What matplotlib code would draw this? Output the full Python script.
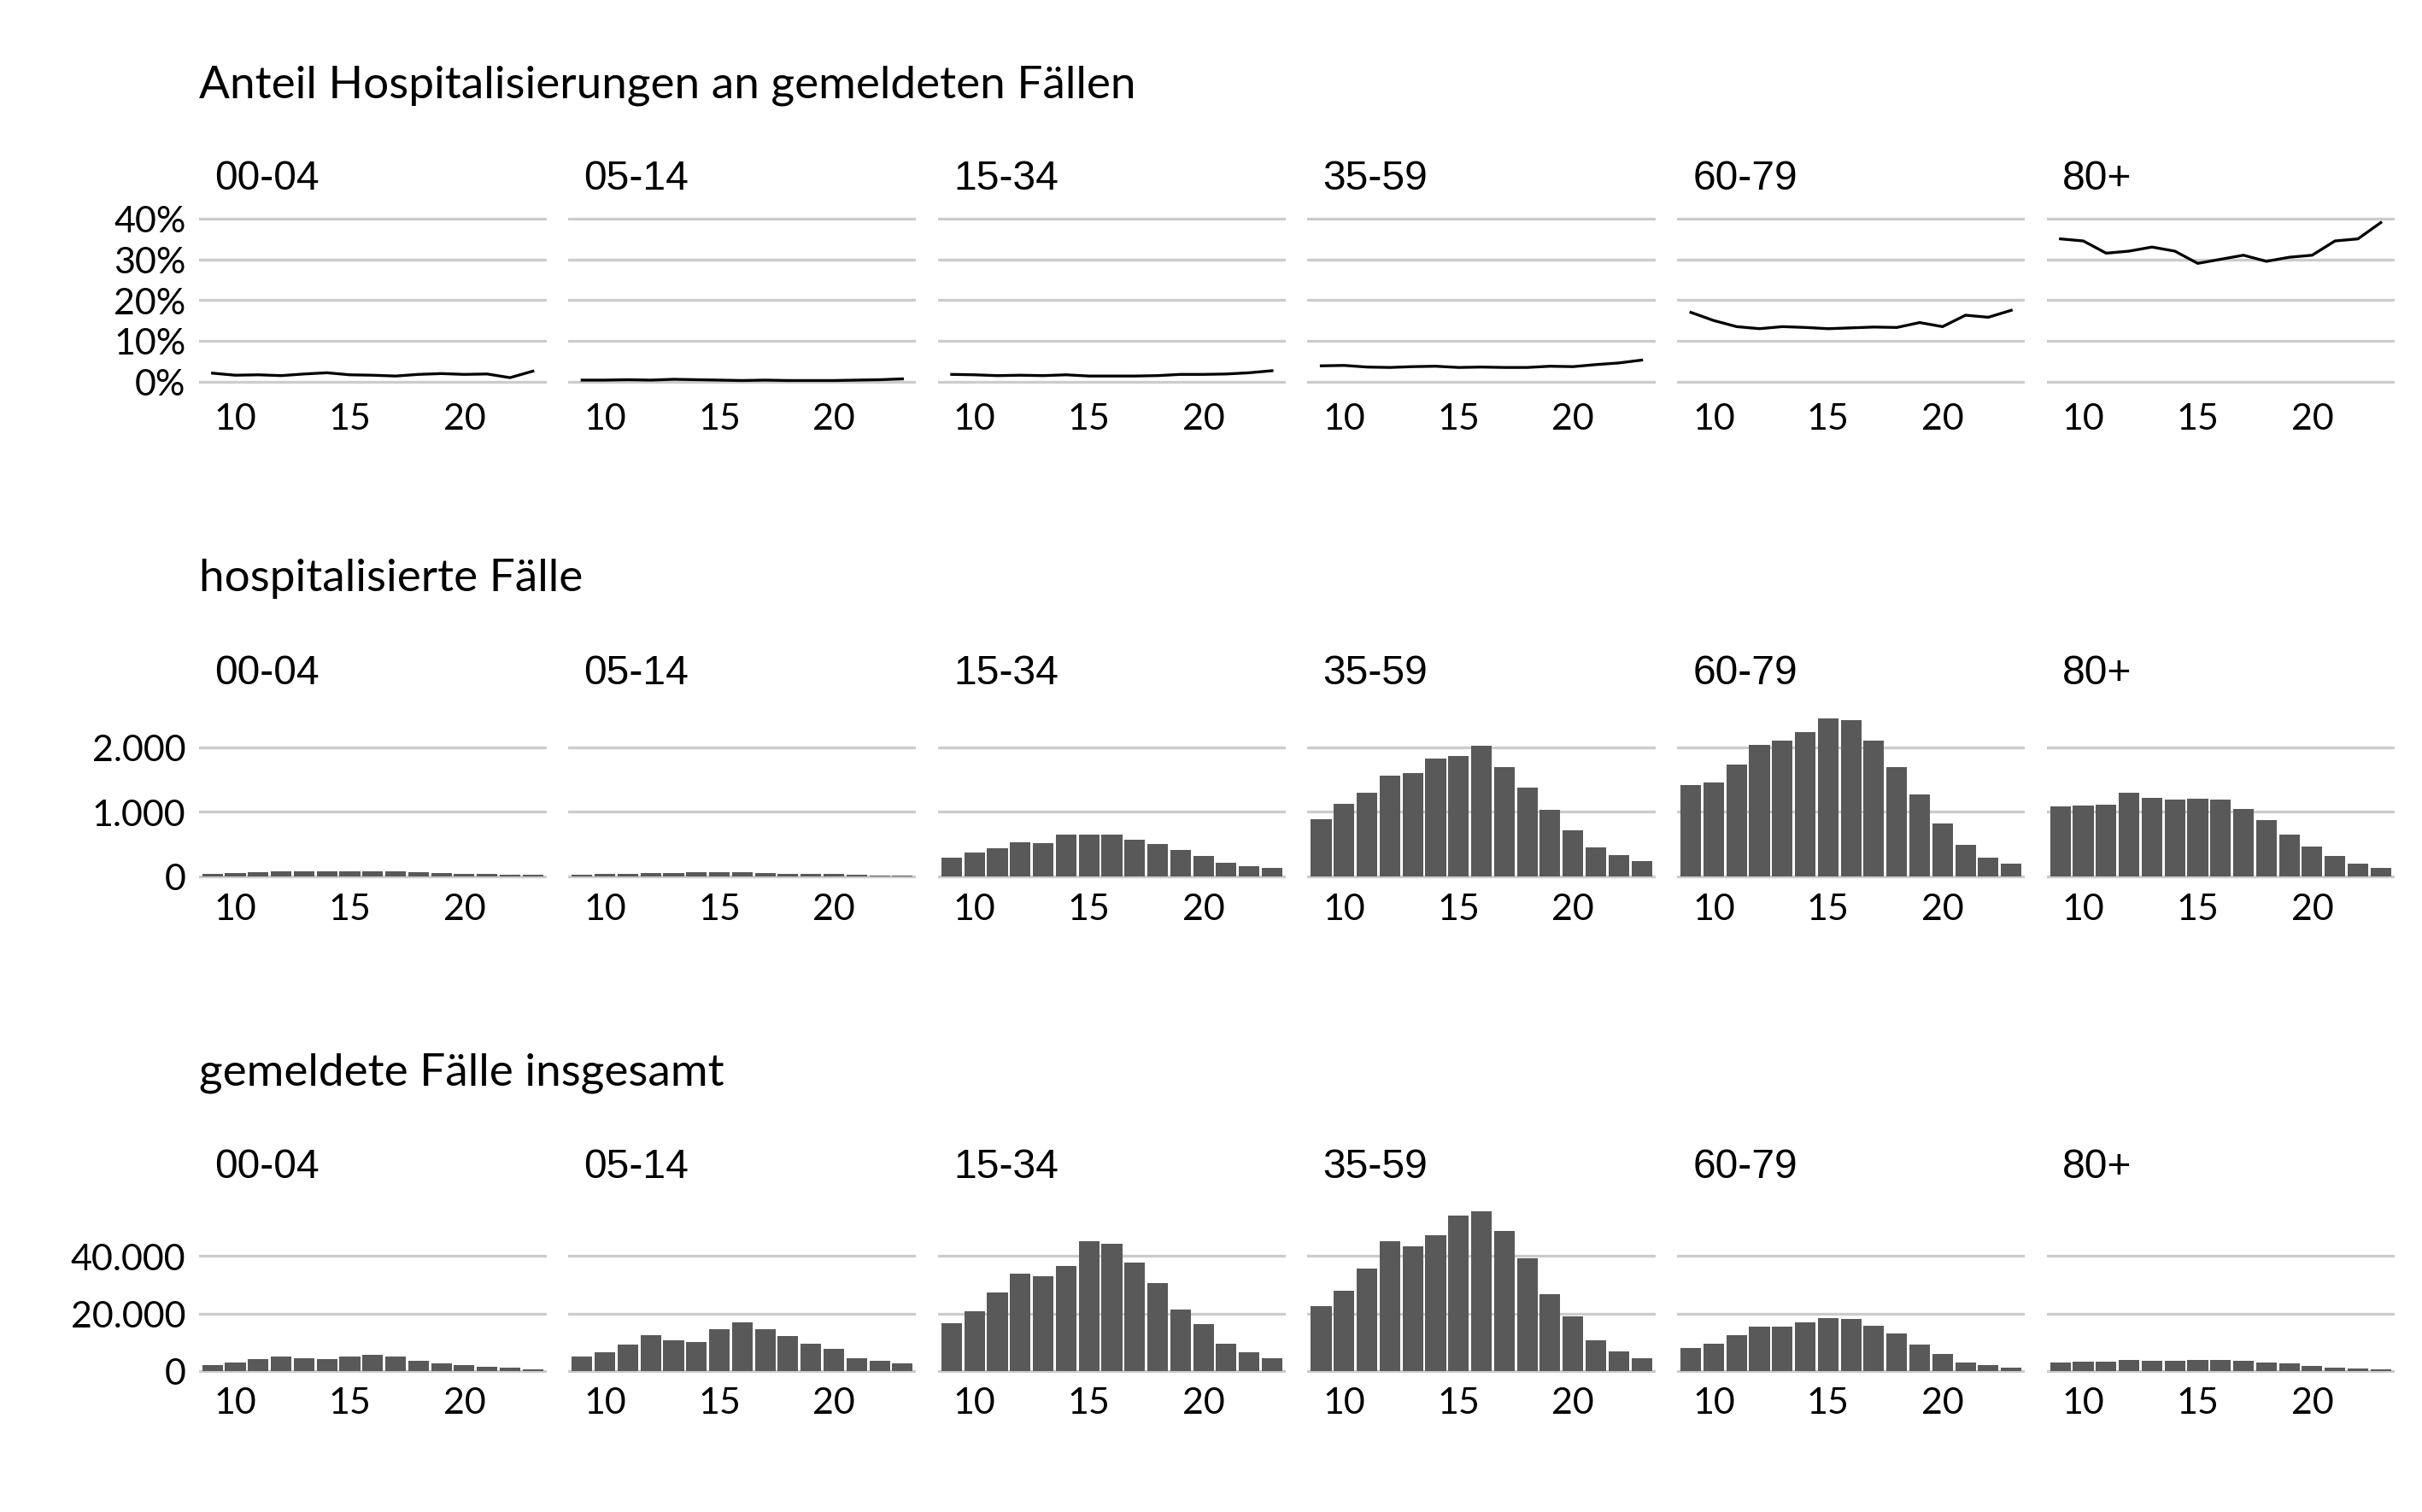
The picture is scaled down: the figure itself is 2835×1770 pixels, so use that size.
import matplotlib
matplotlib.use("Agg")
import matplotlib.pyplot as plt
import numpy as np

weeks = list(range(9, 24))
groups = ["00-04", "05-14", "15-34", "35-59", "60-79", "80+"]

# Anteil Hospitalisierungen (%)
share = {
    "00-04": [2.1, 1.6, 1.7, 1.5, 1.9, 2.2, 1.7, 1.6, 1.4, 1.8, 2.0, 1.8, 1.9, 1.0, 2.6],
    "05-14": [0.4, 0.4, 0.5, 0.4, 0.6, 0.5, 0.4, 0.3, 0.4, 0.3, 0.3, 0.3, 0.4, 0.5, 0.7],
    "15-34": [1.8, 1.7, 1.5, 1.6, 1.5, 1.7, 1.4, 1.4, 1.4, 1.5, 1.8, 1.8, 1.9, 2.2, 2.7],
    "35-59": [3.9, 4.0, 3.6, 3.5, 3.7, 3.8, 3.5, 3.6, 3.5, 3.5, 3.8, 3.7, 4.2, 4.6, 5.3],
    "60-79": [17.0, 15.0, 13.5, 13.0, 13.5, 13.3, 13.0, 13.2, 13.4, 13.3, 14.5, 13.5, 16.3, 15.8, 17.5],
    "80+":   [35.0, 34.5, 31.5, 32.0, 33.0, 32.0, 29.0, 30.0, 31.0, 29.5, 30.5, 31.0, 34.5, 35.0, 39.0],
}
# hospitalisierte Fälle
hosp = {
    "00-04": [40, 50, 60, 70, 70, 80, 80, 70, 70, 60, 50, 40, 30, 20, 20],
    "05-14": [20, 30, 40, 50, 50, 60, 60, 60, 50, 40, 30, 30, 20, 15, 10],
    "15-34": [290, 370, 430, 530, 510, 640, 650, 640, 570, 500, 400, 310, 210, 150, 130],
    "35-59": [880, 1120, 1290, 1560, 1600, 1820, 1860, 2030, 1700, 1370, 1030, 710, 450, 330, 240],
    "60-79": [1420, 1460, 1730, 2040, 2110, 2240, 2450, 2420, 2110, 1700, 1270, 820, 480, 290, 200],
    "80+":   [1080, 1090, 1110, 1290, 1210, 1190, 1200, 1190, 1050, 870, 650, 460, 310, 200, 130],
}
# gemeldete Fälle insgesamt
cases = {
    "00-04": [2000, 3000, 4000, 5000, 4500, 4000, 5000, 5500, 5000, 3500, 2500, 2000, 1500, 1000, 500],
    "05-14": [5000, 6500, 9000, 12500, 10500, 10000, 14500, 17000, 14500, 12000, 9500, 7500, 4500, 3500, 2500],
    "15-34": [16500, 20800, 27300, 33900, 33000, 36600, 45200, 44300, 37800, 30600, 21400, 16200, 9500, 6500, 4400],
    "35-59": [22600, 27800, 35700, 45200, 43300, 47300, 54000, 55500, 48800, 39200, 26600, 19100, 10500, 6800, 4400],
    "60-79": [8000, 9500, 12500, 15500, 15500, 16800, 18500, 18000, 15800, 13000, 9000, 6000, 3000, 2000, 1000],
    "80+":   [3000, 3200, 3300, 3800, 3500, 3500, 3700, 3700, 3400, 3000, 2500, 1800, 1200, 800, 500],
}

W, H = 1560.0, 973.0
fig = plt.figure(figsize=(15.58, 9.73), dpi=182)
tick_font = ["Lato", "DejaVu Sans"]
strip_font = ["Liberation Sans Narrow", "Liberation Sans", "DejaVu Sans"]

def fmt_de(v):
    return f"{int(v):,}".replace(",", ".")

rows = [
    # title, data, ylim, yticks, labels, top px, bottom px, title y, strip y, kind
    ("Anteil Hospitalisierungen an gemeldeten Fällen", share, (-1.9, 42), [0, 10, 20, 30, 40],
     ["0%", "10%", "20%", "30%", "40%"], 135.75, 251, 55, 115, "line"),
    ("hospitalisierte Fälle", hosp, (-60, 2560), [0, 1000, 2000],
     [fmt_de(v) for v in [0, 1000, 2000]], 458, 566.5, 372, 433, "bar"),
    ("gemeldete Fälle insgesamt", cases, (-1000, 57000), [0, 20000, 40000],
     [fmt_de(v) for v in [0, 20000, 40000]], 777, 884, 690, 751, "bar"),
]

x0, pw, gap = 128, 224, 14
for title, data, ylim, yt, yl, top, bot, ty, sy, kind in rows:
    fig.text(x0 / W, 1 - ty / H, title, fontsize=21, family=tick_font, va="center", ha="left")
    for i, g in enumerate(groups):
        left = x0 + i * (pw + gap)
        ax = fig.add_axes([left / W, 1 - bot / H, pw / W, (bot - top) / H])
        if kind == "line":
            ax.plot(weeks, data[g], color="black", lw=1.3)
        else:
            ax.bar(weeks, data[g], width=0.9, color="#595959")
        ax.set_xlim(8.4, 23.6)
        ax.set_ylim(*ylim)
        ax.set_yticks(yt)
        ax.set_xticks([10, 15, 20])
        ax.set_xticklabels(["10", "15", "20"], fontsize=17, family=tick_font)
        if i == 0:
            ax.set_yticklabels(yl, fontsize=17, family=tick_font)
        else:
            ax.set_yticklabels([])
        ax.tick_params(length=0, pad=6)
        ax.grid(axis="y", color="#cccccc", lw=1.3)
        ax.set_axisbelow(True)
        for s in ax.spines.values():
            s.set_visible(False)
        fig.text((left + 10) / W, 1 - sy / H, g, fontsize=19, family=strip_font,
                 va="center", ha="left")

fig.savefig("out.png", dpi=182, facecolor="white")
